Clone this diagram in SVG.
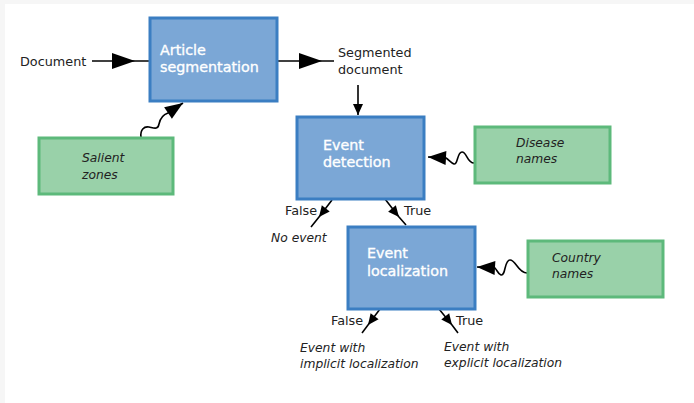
<svg xmlns="http://www.w3.org/2000/svg" width="694" height="403" viewBox="0 0 694 403">
<style>
.bg{fill:#f6f6f6}
.page{fill:#ffffff}
.proc{fill:#7ba7d6;stroke:#3b7ec2;stroke-width:3}
.res{fill:#99d1a9;stroke:#5db97b;stroke-width:3}
.pt{font-family:"DejaVu Sans","Open Sans",sans-serif;font-size:14.3px;fill:#ffffff;stroke:#ffffff;stroke-width:0.35}
.t{font-family:"DejaVu Sans","Open Sans",sans-serif;font-size:12.8px;fill:#222222}
.it{font-family:"DejaVu Sans","Open Sans",sans-serif;font-size:12.3px;font-style:italic;fill:#222222}
.ln{fill:none;stroke:#000000;stroke-width:1.6}
</style>
<defs>
<marker id="big" viewBox="-24 -9 25 18" refX="0" refY="0" markerWidth="25" markerHeight="18" orient="auto" markerUnits="userSpaceOnUse">
<path d="M0,0 L-23,-8 L-23,8 z" fill="#000"/>
</marker>
<marker id="mid" viewBox="-19 -8 20 16" refX="0" refY="0" markerWidth="20" markerHeight="16" orient="auto" markerUnits="userSpaceOnUse">
<path d="M0,0 L-18,-7 L-18,7 z" fill="#000"/>
</marker>
<marker id="small" viewBox="-12 -6 13 12" refX="0" refY="0" markerWidth="13" markerHeight="12" orient="auto" markerUnits="userSpaceOnUse">
<path d="M0,0 L-11,-5 L-11,5 z" fill="#000"/>
</marker>
</defs>
<rect class="bg" x="0" y="0" width="694" height="403"/>
<rect class="page" x="5" y="4" width="689" height="399"/>

<g id="connectors">
<path class="ln" d="M92,61 L135,61 L149,61" marker-mid="url(#big)"/>
<path class="ln" d="M278,61 L322,61 L334,61" marker-mid="url(#big)"/>
<path class="ln" d="M358,85 L358,115" marker-end="url(#small)"/>
<path class="ln" d="M141,137 C140,130 144,126 149,127 C154,128 158,130 159,124 C160,119 162,115 168,113 L183,103" marker-end="url(#mid)"/>
<path class="ln" d="M474,163 C467,163 467,152 462,152 C457,152 458,165 454,164 C451,163 449,160 446,158 L428,157" marker-end="url(#mid)"/>
<path class="ln" d="M527,273 C518,273 516,260 510,260 C504,260 506,276 501,275 C498,274 497,270 495,268 L477,267" marker-end="url(#mid)"/>
<path class="ln" d="M332,200 L319,217 L311,227" marker-mid="url(#small)"/>
<path class="ln" d="M385,199 L399,217 L406,225" marker-mid="url(#small)"/>
<path class="ln" d="M380,309 L368,325 L362,333" marker-mid="url(#small)"/>
<path class="ln" d="M439,309 L452,325 L458,333" marker-mid="url(#small)"/>
</g>

<g id="label-document"><text class="t" x="20" y="66">Document</text></g>
<g id="label-segmented"><text class="t" x="338" y="57">Segmented</text><text class="t" x="338" y="74">document</text></g>

<g id="article-segmentation">
<rect class="proc" x="150" y="18" width="127" height="83"/>
<text class="pt" x="160" y="55">Article</text>
<text class="pt" x="160" y="72">segmentation</text>
</g>

<g id="salient-zones">
<rect class="res" x="39" y="138" width="134" height="56"/>
<text class="it" x="82" y="162">Salient</text>
<text class="it" x="82" y="179">zones</text>
</g>

<g id="event-detection">
<rect class="proc" x="297" y="117" width="127" height="82"/>
<text class="pt" x="323" y="150">Event</text>
<text class="pt" x="323" y="167">detection</text>
</g>

<g id="disease-names">
<rect class="res" x="475" y="127" width="135" height="56"/>
<text class="it" x="516" y="147">Disease</text>
<text class="it" x="516" y="163">names</text>
</g>

<g id="event-localization">
<rect class="proc" x="348" y="227" width="127" height="82"/>
<text class="pt" x="367" y="258">Event</text>
<text class="pt" x="367" y="276">localization</text>
</g>

<g id="country-names">
<rect class="res" x="528" y="241" width="135" height="56"/>
<text class="it" x="552" y="262">Country</text>
<text class="it" x="552" y="278">names</text>
</g>

<g id="labels-detection">
<text class="t" x="285" y="215">False</text>
<text class="t" x="404" y="215">True</text>
<text class="it" x="271" y="242">No event</text>
</g>

<g id="labels-localization">
<text class="t" x="331" y="325">False</text>
<text class="t" x="456" y="325">True</text>
<text class="it" x="300" y="352">Event with</text>
<text class="it" x="300" y="368">implicit localization</text>
<text class="it" x="444" y="351">Event with</text>
<text class="it" x="444" y="367">explicit localization</text>
</g>
</svg>
